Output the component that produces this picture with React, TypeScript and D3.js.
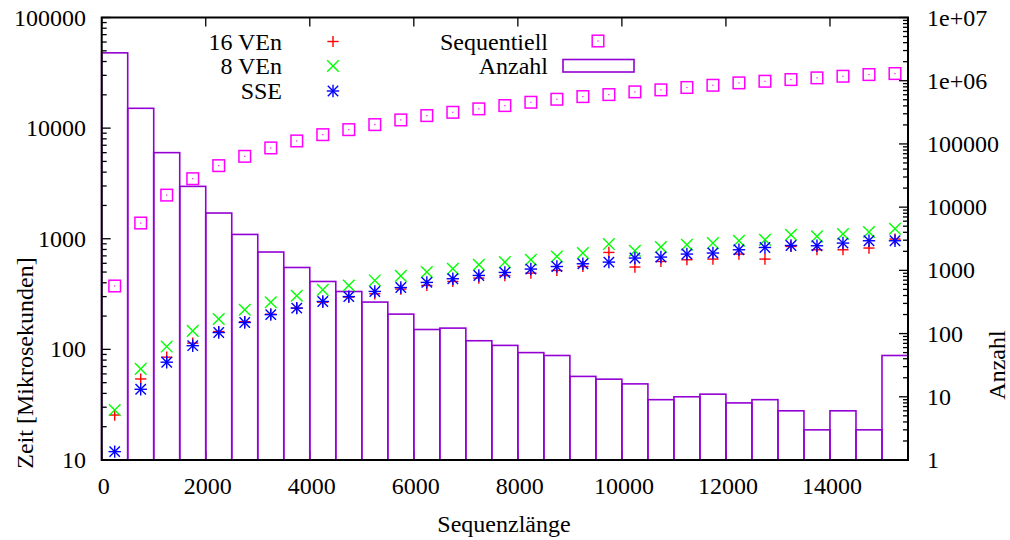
import React from 'react';
import * as d3 from 'd3';

// Mittelpunkte der Längenklassen (Klassenbreite 500)
const laengen = [
  250, 750, 1250, 1750, 2250, 2750, 3250, 3750, 4250, 4750, 5250, 5750, 6250, 6750, 7250, 7750,
  8250, 8750, 9250, 9750, 10250, 10750, 11250, 11750, 12250, 12750, 13250, 13750, 14250, 14750, 15250,
];
const klassenBreite = 500;

// Laufzeiten in Mikrosekunden
const ve16 = [
  25.5, 54, 85, 114, 145, 178, 208, 236, 267, 297, 318, 351, 378, 411, 441, 465,
  489, 517, 561, 752, 555, 623, 646, 655, 727, 655, 852, 795, 795, 824, 994,
];
const ve8 = [
  28.3, 66.6, 106, 147, 188, 228, 267, 305, 345, 378, 420, 462, 500, 535, 582, 615,
  646, 692, 743, 895, 779, 841, 883, 914, 959, 979, 1087, 1050, 1104, 1150, 1231,
];
const sse = [
  11.9, 43.6, 76.6, 108, 142, 175, 206, 236, 271, 300, 334, 362, 403, 435, 466, 496,
  532, 561, 594, 615, 669, 683, 727, 743, 795, 834, 869, 864, 914, 959, 959,
];
const sequentiell = [
  374, 1387, 2480, 3490, 4580, 5560, 6620, 7660, 8730, 9690, 10760, 11860, 12980, 13900, 14930, 15990,
  17130, 18240, 19280, 20100, 21270, 22170, 23300, 24400, 25650, 26530, 27470, 28460, 29440, 30490, 31140,
];
// Anzahl der Sequenzen je Längenklasse
const anzahl = [
  2760000, 366000, 72800, 21300, 8070, 3700, 1950, 1110, 667, 463, 315, 203, 116, 122, 77, 65,
  50, 45, 21, 19, 16, 9, 10, 11, 8, 9, 6, 3, 6, 3, 45,
];

const xTicks = [0, 2000, 4000, 6000, 8000, 10000, 12000, 14000];
const yTicks = [10, 100, 1000, 10000, 100000];
const y2Ticks = [1, 10, 100, 1000, 10000, 100000, 1e6, 1e7];
const y2Labels = ['1', '10', '100', '1000', '10000', '100000', '1e+06', '1e+07'];

const W = 1010;
const H = 540;
const box = { left: 101.7, right: 908, top: 17.5, bottom: 460 };
const FONT = '"Liberation Serif", "DejaVu Serif", "Times New Roman", serif';
const FS = 24;

const ROT = '#ff0000';
const GRUEN = '#00ff00';
const BLAU = '#0000ff';
const MAGENTA = '#ff00ff';
const VIOLETT = '#9400d3';

type MarkProps = { cx: number; cy: number; color: string };

function Plus({ cx, cy, color }: MarkProps) {
  const r = 5.6;
  return (
    <g stroke={color} strokeWidth={1.4}>
      <line x1={cx - r} y1={cy} x2={cx + r} y2={cy} />
      <line x1={cx} y1={cy - r} x2={cx} y2={cy + r} />
    </g>
  );
}

function Cross({ cx, cy, color }: MarkProps) {
  const r = 5.8;
  return (
    <g stroke={color} strokeWidth={1.4}>
      <line x1={cx - r} y1={cy - r} x2={cx + r} y2={cy + r} />
      <line x1={cx - r} y1={cy + r} x2={cx + r} y2={cy - r} />
    </g>
  );
}

function Star({ cx, cy, color }: MarkProps) {
  const r = 6.2;
  const d = 5.2;
  return (
    <g stroke={color} strokeWidth={1.4}>
      <line x1={cx - r} y1={cy} x2={cx + r} y2={cy} />
      <line x1={cx} y1={cy - r} x2={cx} y2={cy + r} />
      <line x1={cx - d} y1={cy - d} x2={cx + d} y2={cy + d} />
      <line x1={cx - d} y1={cy + d} x2={cx + d} y2={cy - d} />
    </g>
  );
}

function Square({ cx, cy, color }: MarkProps) {
  const r = 5.8;
  return (
    <g>
      <rect x={cx - r} y={cy - r} width={2 * r} height={2 * r} fill="none" stroke={color} strokeWidth={1.5} />
      <rect x={cx - 0.6} y={cy - 0.6} width={1.2} height={1.2} fill={color} />
    </g>
  );
}

export default function App() {
  const x = d3.scaleLinear().domain([0, 15500]).range([box.left, box.right]);
  const y = d3.scaleLog().domain([10, 100000]).range([box.bottom, box.top]);
  const y2 = d3.scaleLog().domain([1, 1e7]).range([box.bottom, box.top]);

  const minor = (decades: number[]) =>
    decades.flatMap((d) => [2, 3, 4, 5, 6, 7, 8, 9].map((k) => k * d));
  const yMinor = minor(yTicks.slice(0, -1));
  const y2Minor = minor(y2Ticks.slice(0, -1));

  const major = 9;
  const small = 5;

  return (
    <svg
      width={W}
      height={H}
      style={{ position: 'absolute', left: 0, top: 0, background: '#fff' }}
      fontFamily={FONT}
      fontSize={FS}
    >
      <rect x={0} y={0} width={W} height={H} fill="#fff" />

      {/* Ticks */}
      <g stroke="#000" strokeWidth={1.3}>
        {xTicks.map((t) => (
          <g key={'xt' + t}>
            <line x1={x(t)} x2={x(t)} y1={box.bottom} y2={box.bottom - major} />
            <line x1={x(t)} x2={x(t)} y1={box.top} y2={box.top + major} />
          </g>
        ))}
        {yTicks.map((t) => (
          <line key={'yt' + t} x1={box.left} x2={box.left + major} y1={y(t)} y2={y(t)} />
        ))}
        {yMinor.map((t) => (
          <line key={'ym' + t} x1={box.left} x2={box.left + small} y1={y(t)} y2={y(t)} />
        ))}
        {y2Ticks.map((t) => (
          <line key={'y2t' + t} x1={box.right} x2={box.right - major} y1={y2(t)} y2={y2(t)} />
        ))}
        {y2Minor.map((t) => (
          <line key={'y2m' + t} x1={box.right} x2={box.right - small} y1={y2(t)} y2={y2(t)} />
        ))}
      </g>

      {/* Histogramm: Anzahl je Längenklasse */}
      <g fill="none" stroke={VIOLETT} strokeWidth={1.6}>
        {laengen.map((l, i) => (
          <rect
            key={'bar' + i}
            x={x(l - klassenBreite / 2)}
            y={y2(anzahl[i])}
            width={x(l + klassenBreite / 2) - x(l - klassenBreite / 2)}
            height={y2(1) - y2(anzahl[i])}
          />
        ))}
      </g>

      {/* Messreihen */}
      {laengen.map((l, i) => (
        <Plus key={'p16' + i} cx={x(l)} cy={y(ve16[i])} color={ROT} />
      ))}
      {laengen.map((l, i) => (
        <Cross key={'p8' + i} cx={x(l)} cy={y(ve8[i])} color={GRUEN} />
      ))}
      {laengen.map((l, i) => (
        <Star key={'sse' + i} cx={x(l)} cy={y(sse[i])} color={BLAU} />
      ))}
      {laengen.map((l, i) => (
        <Square key={'seq' + i} cx={x(l)} cy={y(sequentiell[i])} color={MAGENTA} />
      ))}

      {/* Rahmen */}
      <rect
        x={box.left}
        y={box.top}
        width={box.right - box.left}
        height={box.bottom - box.top}
        fill="none"
        stroke="#000"
        strokeWidth={2}
      />

      {/* Achsenbeschriftungen */}
      <g fill="#000">
        {xTicks.map((t) => (
          <text key={'xl' + t} x={x(t) + 2} y={494} textAnchor="middle">
            {t}
          </text>
        ))}
        {yTicks.map((t) => (
          <text key={'yl' + t} x={86} y={y(t) + 8} textAnchor="end">
            {t}
          </text>
        ))}
        {y2Ticks.map((t, i) => (
          <text key={'y2l' + t} x={927} y={y2(t) + 8} textAnchor="start">
            {y2Labels[i]}
          </text>
        ))}
        <text x={504} y={532} textAnchor="middle">
          Sequenzlänge
        </text>
        <text transform={`translate(33, 363) rotate(-90)`} textAnchor="middle">
          Zeit [Mikrosekunden]
        </text>
        <text transform={`translate(1005, 365) rotate(-90)`} textAnchor="middle">
          Anzahl
        </text>
      </g>

      {/* Legende */}
      <g fill="#000">
        <text x={282} y={49.5} textAnchor="end">16 VEn</text>
        <text x={282} y={74} textAnchor="end">8 VEn</text>
        <text x={282} y={99} textAnchor="end">SSE</text>
        <text x={548} y={49.5} textAnchor="end">Sequentiell</text>
        <text x={548} y={74} textAnchor="end">Anzahl</text>
      </g>
      <Plus cx={333} cy={41.5} color={ROT} />
      <Cross cx={333} cy={66} color={GRUEN} />
      <Star cx={333} cy={91} color={BLAU} />
      <Square cx={598} cy={41} color={MAGENTA} />
      <rect x={563} y={59.5} width={71} height={12.5} fill="none" stroke={VIOLETT} strokeWidth={1.6} />
    </svg>
  );
}
